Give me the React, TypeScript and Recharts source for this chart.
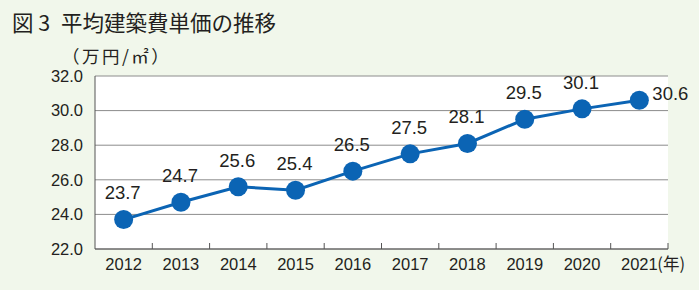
import React from 'react';
import { LineChart, Line, XAxis, YAxis, CartesianGrid, LabelList } from 'recharts';

const years = ['2012', '2013', '2014', '2015', '2016', '2017', '2018', '2019', '2020', '2021'];
const values = [23.7, 24.7, 25.6, 25.4, 26.5, 27.5, 28.1, 29.5, 30.1, 30.6];
const yTicks = [22, 24, 26, 28, 30, 32];
const title = '図 3\u2002平均建築費単価の推移';
const unitLabel = '（万円/㎡）';
const yearUnit = '(年)';

const data = years.map((y, i) => ({ year: y, value: values[i] }));

const W = 699;
const H = 290;
const M = { top: 76, right: 31, left: 0, bottom: 0 };
const Y_AXIS_W = 95;
const X_AXIS_H = 41;
const PLOT_W = W - M.left - M.right - Y_AXIS_W;
const HALF_BAND = PLOT_W / years.length / 2;

const TEXT = '#231f20';
const BLUE = '#0b64b4';
const NUM_FONT = '"Liberation Sans", Arial, sans-serif';
const CJK_FONT = '"Noto Sans CJK JP", "Noto Sans", sans-serif';

const XTick = (props: any) => {
  const { x, y, payload, index } = props;
  const last = index === years.length - 1;
  return (
    <g>
      <line x1={x + HALF_BAND} x2={x + HALF_BAND} y1={y} y2={y - 6} stroke="#555" strokeWidth={1} />
      <text x={x} y={y + 17} textAnchor="middle" dominantBaseline="middle" fontSize={16.5} fill={TEXT} fontFamily={NUM_FONT}>
        {payload.value}
      </text>
      {last ? (
        <text x={x + 18} y={y + 17} textAnchor="start" dominantBaseline="middle" fontSize={16.5} fill={TEXT} fontFamily={CJK_FONT}>
          {yearUnit}
        </text>
      ) : null}
    </g>
  );
};

const ValueLabel = (props: any) => {
  const { x, y, value, index } = props;
  const last = index === values.length - 1;
  if (last) {
    return (
      <text x={x + 13} y={y - 5} textAnchor="start" dominantBaseline="middle" fontSize={18.5} fill={TEXT} fontFamily={NUM_FONT}>
        {value.toFixed(1)}
      </text>
    );
  }
  return (
    <text x={x - 1} y={y - 25} textAnchor="middle" dominantBaseline="middle" fontSize={18.5} fill={TEXT} fontFamily={NUM_FONT}>
      {value.toFixed(1)}
    </text>
  );
};

export default function App() {
  return (
    <div style={{ position: 'absolute', left: 0, top: 0, width: W, height: H, background: '#f1f7eb', overflow: 'hidden' }}>
      <div style={{ position: 'absolute', left: 12, top: 10, fontSize: 21.5, lineHeight: '24px', fontFamily: CJK_FONT, fontWeight: 400, color: TEXT, whiteSpace: 'pre' }}>
        {title}
      </div>
      <div style={{ position: 'absolute', left: 62, top: 46, fontSize: 17.5, lineHeight: '20px', letterSpacing: '2.5px', fontFamily: CJK_FONT, color: TEXT, whiteSpace: 'pre' }}>
        {unitLabel}
      </div>
      <LineChart width={W} height={H} data={data} margin={M}>
        <CartesianGrid horizontal vertical={false} stroke="#8c8c8c" fill="#ffffff" />
        <XAxis
          dataKey="year"
          height={X_AXIS_H}
          padding={{ left: HALF_BAND, right: HALF_BAND }}
          axisLine={{ stroke: '#555', strokeWidth: 1 }}
          tickLine={false}
          tickSize={0}
          tickMargin={0}
          tick={<XTick />}
          interval={0}
        />
        <YAxis
          width={Y_AXIS_W}
          domain={[22, 32]}
          ticks={yTicks}
          tickFormatter={(v: number) => v.toFixed(1)}
          axisLine={{ stroke: '#555', strokeWidth: 1 }}
          tickLine={false}
          tickSize={0}
          tickMargin={12}
          tick={{ fontSize: 16.5, fill: TEXT, fontFamily: NUM_FONT }}
          interval={0}
        />
        <Line
          type="linear"
          dataKey="value"
          stroke={BLUE}
          strokeWidth={3}
          dot={{ r: 9.5, fill: BLUE, stroke: 'none' }}
          activeDot={false}
          isAnimationActive={false}
        >
          <LabelList dataKey="value" content={<ValueLabel />} />
        </Line>
      </LineChart>
    </div>
  );
}
